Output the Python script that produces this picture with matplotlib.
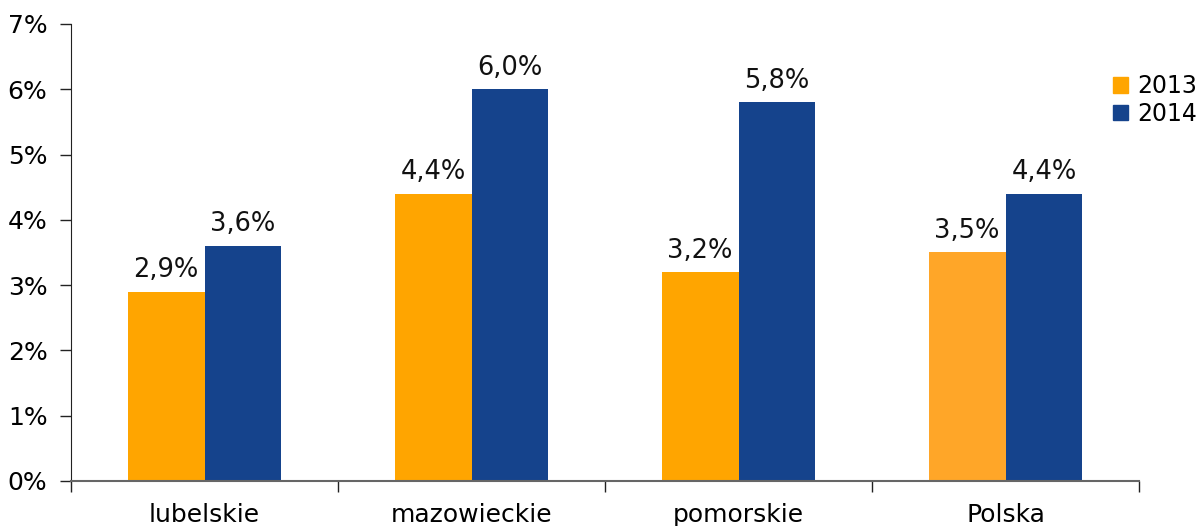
import matplotlib
matplotlib.use("Agg")
import matplotlib.pyplot as plt
from matplotlib.patches import Patch
import numpy as np

categories = ["lubelskie", "mazowieckie", "pomorskie", "Polska"]
series_names = ["2013", "2014"]
v2013 = [2.9, 4.4, 3.2, 3.5]
v2014 = [3.6, 6.0, 5.8, 4.4]
yticks = [0, 1, 2, 3, 4, 5, 6, 7]

c2013 = ["#FFA500", "#FFA500", "#FFA500", "#FFA628"]
c2014 = "#15438C"

plt.rcParams['font.family'] = ['DejaVu Sans']
fig = plt.figure(figsize=(11.98, 5.26), dpi=100)
ax = fig.add_axes([0.0593, 0.0856, 0.8915, 0.8688])

x = np.arange(len(categories))
w = 0.288
ax.bar(x - w/2, v2013, w, color=c2013, label=series_names[0])
ax.bar(x + w/2, v2014, w, color=c2014, label=series_names[1])

def fmt(v):
    return f"{v:.1f}".replace(".", ",") + "%"

for xi, v in zip(x - w/2, v2013):
    ax.text(xi, v + 0.13, fmt(v), ha="center", va="bottom", fontsize=18.5, color="#111111")
for xi, v in zip(x + w/2, v2014):
    ax.text(xi, v + 0.13, fmt(v), ha="center", va="bottom", fontsize=18.5, color="#111111")

ax.set_xlim(-0.5, len(categories) - 0.5)
ax.set_ylim(0, 7)
ax.set_yticks(yticks)
ax.set_yticklabels([f"{t}%" for t in yticks], fontsize=18)
ax.set_xticks(x)
ax.set_xticklabels(categories, fontsize=18)
ax.tick_params(axis="x", which="major", length=0, pad=16)
ax.set_xticks(np.arange(-0.5, len(categories)), minor=True)
ax.tick_params(axis="x", which="minor", length=8, color="#222222", width=1)
ax.tick_params(axis="y", length=8, width=1, color="#222222", pad=9)

for s in ["top", "right"]:
    ax.spines[s].set_visible(False)
ax.spines["left"].set_color("#222222")
ax.spines["bottom"].set_color("#666666")
ax.spines["bottom"].set_linewidth(1.5)

handles = [Patch(color="#FFA500", label="2013"), Patch(color=c2014, label="2014")]
fig.legend(handles=handles, loc="upper left", bbox_to_anchor=(0.929, 0.859),
           frameon=False, fontsize=17, handlelength=0.62, handleheight=0.62,
           handletextpad=0.42, labelspacing=0.15, borderaxespad=0, borderpad=0)

fig.savefig("out.png", dpi=100)
